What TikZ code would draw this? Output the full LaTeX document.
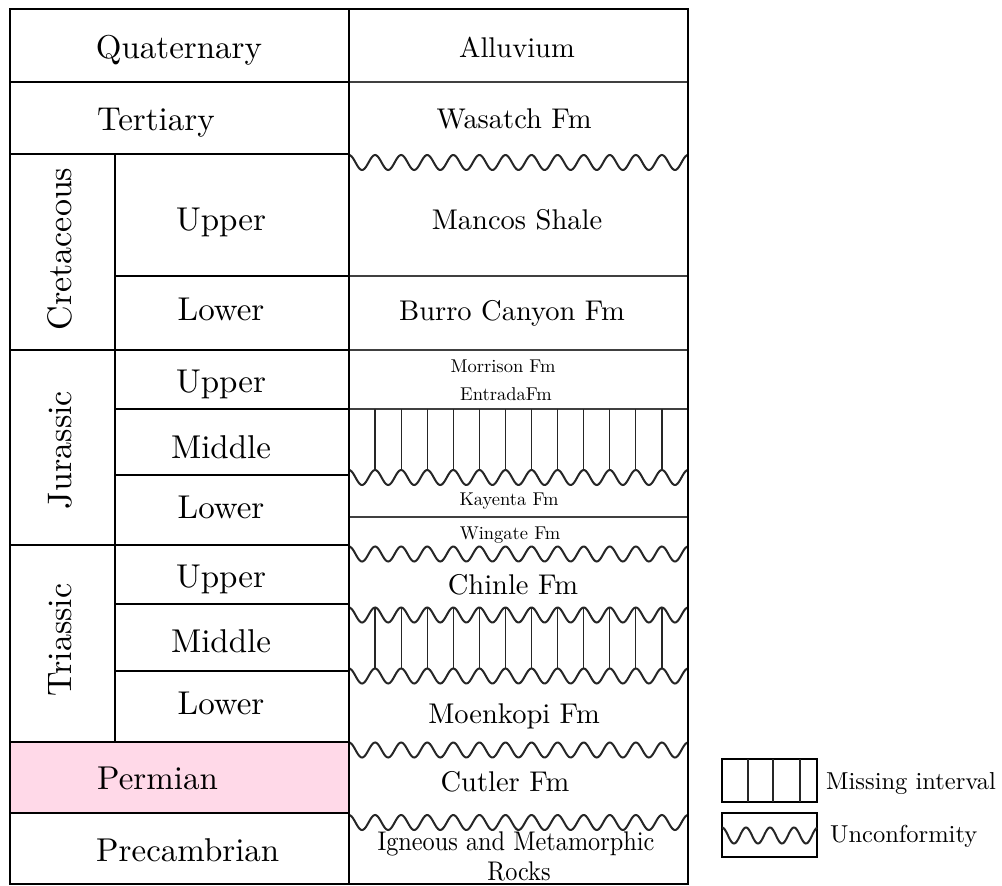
\documentclass[tikz,border=0pt]{standalone}
\usepackage{fontspec}
\setmainfont{lmroman10-regular.otf}
\definecolor{permianpink}{RGB}{255,217,232}
\newcommand\mywave[4]{% x0, x1, centre, amplitude ; period 26.077
  \draw[wavestyle] plot[domain=#1:#2,samples=260,smooth] (\x,{#3-#4*cos(13.805*(\x-#1))});}
\begin{document}
\begin{tikzpicture}[x=1pt,y=-1pt,
  bold/.style={line width=2.6pt},
  fine/.style={line width=1.4pt, black!75},
  wavestyle/.style={line width=2pt, black!85},
  gapline/.style={line width=1.2pt, black!85},
  lefttext/.style={font=\fontsize{33}{36}\selectfont, anchor=base, inner sep=0pt},
  lefttextw/.style={font=\fontsize{33}{36}\selectfont, anchor=base west, inner sep=0pt},
  vtext/.style={font=\fontsize{34}{36}\selectfont, rotate=90, inner sep=0pt},
  fmtext/.style={font=\fontsize{28.5}{30}\selectfont, anchor=base, inner sep=0pt},
  smalltext/.style={font=\fontsize{18.5}{20}\selectfont, anchor=base, inner sep=0pt},
  legtext/.style={font=\fontsize{24.5}{26}\selectfont, anchor=base west, inner sep=0pt}]
\useasboundingbox (0,0) rectangle (1002,886);
% fill
\fill[permianpink] (10,742) rectangle (349,813);
% right column thin lines
\draw[fine] (349,82) -- (688,82);
\draw[fine] (349,276) -- (688,276);
\draw[fine] (349,350) -- (688,350);
\draw[fine] (349,409) -- (688,409);
\draw[fine] (349,517) -- (688,517);
% waves
\mywave{349}{688}{162.5}{7.5}
\mywave{349}{688}{477.5}{7.5}
\mywave{349}{688}{554}{7.5}
\mywave{349}{688}{615}{7.5}
\mywave{349}{688}{676}{7.5}
\mywave{349}{688}{750}{7.5}
\mywave{349}{688}{822.5}{7.5}
% missing interval verticals
\foreach \k in {1,...,12}{
  \draw[gapline] ({349+26.077*\k},409) -- ({349+26.077*\k},470);
  \draw[gapline] ({349+26.077*\k},607.5) -- ({349+26.077*\k},668.5);
}
% left column lines
\draw[bold] (10,82) -- (349,82);
\draw[bold] (10,154) -- (349,154);
\draw[bold] (115,276) -- (349,276);
\draw[bold] (10,350) -- (349,350);
\draw[bold] (115,409) -- (349,409);
\draw[bold] (115,475) -- (349,475);
\draw[bold] (10,545) -- (349,545);
\draw[bold] (115,604) -- (349,604);
\draw[bold] (115,671) -- (349,671);
\draw[bold] (10,742) -- (349,742);
\draw[bold] (10,813) -- (349,813);
\draw[bold] (115,154) -- (115,742);
\draw[bold] (349,9) -- (349,884);
\draw[bold] (10,9) rectangle (688,884);
% left column text
\node[lefttext] (quat) at (179,58) {Quaternary};
\node[lefttextw] (tert) at (97,130) {Tertiary};
\node[vtext] (cret) at (60,249) {Cretaceous};
\node[lefttext] (cu) at (221,230) {Upper};
\node[lefttext] (cl) at (221,320) {Lower};
\node[vtext] (jur) at (60,450) {Jurassic};
\node[lefttext] (ju) at (221,392) {Upper};
\node[lefttext] (jm) at (221,458) {Middle};
\node[lefttext] (jl) at (221,518) {Lower};
\node[vtext] (tri) at (60,640) {Triassic};
\node[lefttext] (tu) at (221,587) {Upper};
\node[lefttext] (tm) at (221,652) {Middle};
\node[lefttext] (tl) at (221,714) {Lower};
\node[lefttextw] (perm) at (97,789) {Permian};
\node[lefttextw] (prec) at (96,861) {Precambrian};
% formations
\node[fmtext] (allu) at (517,57) {Alluvium};
\node[fmtext] (wasa) at (514,128) {Wasatch Fm};
\node[fmtext] (manc) at (517,229) {Mancos Shale};
\node[fmtext] (burr) at (512,320) {Burro Canyon Fm};
\node[smalltext] (morr) at (503,372) {Morrison Fm};
\node[smalltext] (entr) at (506,400) {EntradaFm};
\node[smalltext] (kaye) at (509,505) {Kayenta Fm};
\node[smalltext] (wing) at (510,539) {Wingate Fm};
\node[fmtext] (chin) at (513,594) {Chinle Fm};
\node[fmtext] (moen) at (514,723) {Moenkopi Fm};
\node[fmtext] (cutl) at (505,791) {Cutler Fm};
\node[font=\fontsize{27}{29}\selectfont, anchor=base, inner sep=0pt, xscale=0.9] (igne) at (516,850) {Igneous and Metamorphic};
\node[font=\fontsize{27}{29}\selectfont, anchor=base, inner sep=0pt, xscale=0.9] (rock) at (519,880) {Rocks};
% legend
\draw[bold] (722,759) rectangle (817,802);
\draw[gapline] (748,759) -- (748,802);
\draw[gapline] (773,759) -- (773,802);
\draw[gapline] (800,759) -- (800,802);
\draw[bold] (722,813) rectangle (817,857);
\draw[wavestyle] plot[domain=722:817,samples=120,smooth] (\x,{835.5-8*cos(15*(\x-722))});
\node[legtext] (lmiss) at (826,789) {Missing interval};
\node[legtext] (lunc) at (830,842) {Unconformity};
\end{tikzpicture}
\end{document}
